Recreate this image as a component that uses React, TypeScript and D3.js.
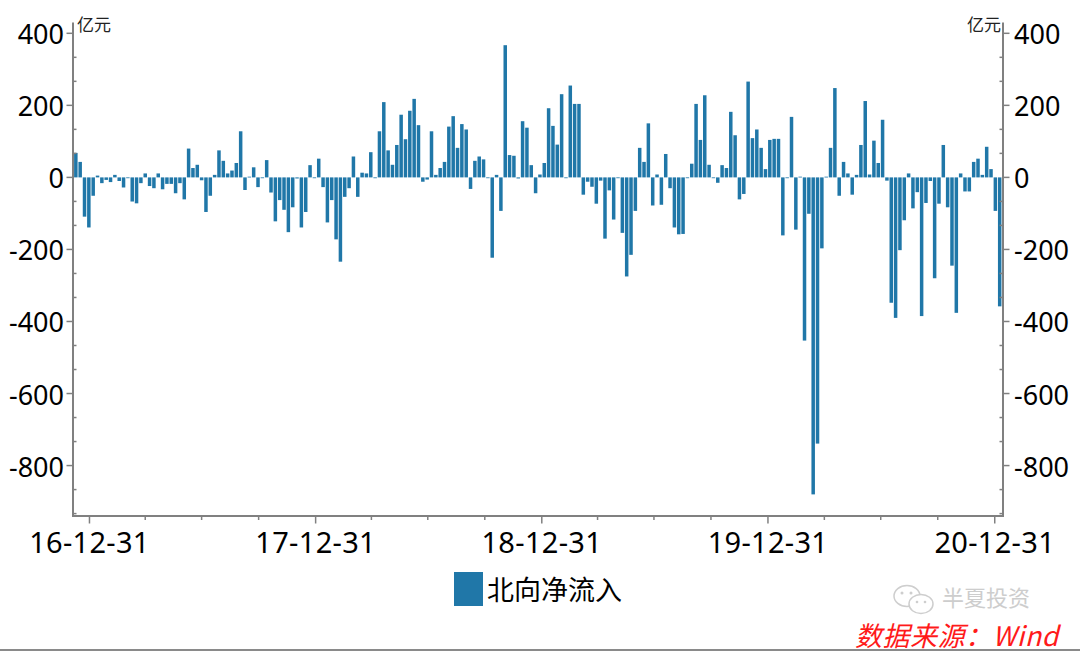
import React from "react";
import * as d3 from "d3";

// Weekly northbound net inflow (亿元), Fridays from 2016-12-09 to 2021-01-08
const firstWeek = "2016-12-09";
const values: number[] = [
  68, 43, -109, -139, -51, 5, -16, -7, -13, 7, -10, -28, -2, -67, -72, -16, 11, -24, -30, 11, -33, -18, -18, -44, -16, -61, 80, 26, 35, -8, -96, -51, 7, 75, 46, 11,
  19, 40, 128, -35, 2, 28, -27, 0, 48, -42, -122, -63, -90, -152, -83, -3, -139, -96, 34, -2, 52, -27, -125, -63, -172, -234, -54, -30, 58, -54, 13, 11, 70, 0, 128, 209,
  75, 35, 90, 174, 106, 185, 218, 145, -12, -6, 128, 7, 26, 43, 141, 170, 82, 148, 133, -32, 46, 58, 50, 0, -223, 7, -93, 367, 62, 60, -3, 156, 138, 34, -44, 8,
  40, 192, 143, 91, 231, 0, 255, 204, 204, -48, -12, -26, -73, -9, -170, -36, -117, 0, -154, -275, -215, -93, 82, 43, 150, -78, 8, -76, 65, -30, -139, -158, -157, -2, 38,
  204, 104, 228, 35, 0, -15, 34, 26, 182, 117, -61, -46, 266, 109, 133, 82, 23, 104, 107, 107, -161, 0, 168, -145, 2, -453, -101, -880, -739, -197, 2, 82, 248, -51, 43, 11,
  -48, 7, 90, 212, 8, 102, 40, 160, -9, -348, -390, -202, -119, 11, -86, -41, -385, -71, -10, -280, -73, 90, -83, -245, -376, 11, -39, -39, 43, 52, 7, 85, 23, -93, -358,
];
const yMajorTicks = [400, 200, 0, -200, -400, -600, -800];
const xMajorTickDates = ["2016-12-31", "2017-12-31", "2018-12-31", "2019-12-31", "2020-12-31"];
const xMinorTickDates = [
  "2017-03-31", "2017-06-30", "2017-09-30",
  "2018-03-31", "2018-06-30", "2018-09-30",
  "2019-03-31", "2019-06-30", "2019-09-30",
  "2020-03-31", "2020-06-30", "2020-09-30",
];
const seriesName = "北向净流入";
const unitLabel = "亿元";
const sourceText = "数据来源：Wind";
const brandText = "半夏投资";

const parse = d3.timeParse("%Y-%m-%d");
const fmt = d3.timeFormat("%y-%m-%d");

export default function App() {
  const W = 1080, H = 653;
  const left = 73, right = 1003, top = 22.5, bottom = 516;
  const start = parse(firstWeek)!;
  const dates = values.map((_, i) => d3.timeDay.offset(start, 7 * i));

  const x = d3.scaleTime()
    .domain([new Date(2016, 11, 4, 10), new Date(2021, 0, 13, 8)])
    .range([left, right]);
  const y = d3.scaleLinear().domain([-940, 430]).range([bottom, top]);
  const barW = 3.5;
  const axisColor = "#808080";
  const barColor = "#2077a8";
  const numFont = "'Noto Sans', 'DejaVu Sans', sans-serif";
  const cjkFont = "'Noto Sans CJK SC', sans-serif";

  const minorY: number[] = [];
  for (let k = -14; k <= 6; k++) {
    const v = (k * 200) / 3;
    if (v >= -940 && v <= 430 && Math.abs(v % 200) > 1e-6) minorY.push(v);
  }

  return (
    <svg width={W} height={H} style={{ position: "absolute", left: 0, top: 0, background: "#fff" }}>
      {/* bars */}
      <g>
        {values.map((v, i) => {
          const cx = x(dates[i]);
          const y0 = y(0), y1 = y(v);
          return (
            <rect key={i} x={cx - barW / 2} y={Math.min(y0, y1)} width={barW}
              height={Math.max(0.8, Math.abs(y1 - y0))} fill={barColor} />
          );
        })}
      </g>

      {/* frame */}
      <line x1={left} x2={left} y1={top} y2={bottom} stroke={axisColor} strokeWidth={2} />
      <line x1={right} x2={right} y1={top} y2={bottom} stroke={axisColor} strokeWidth={2} />
      <line x1={left - 1} x2={right + 1} y1={bottom} y2={bottom} stroke={axisColor} strokeWidth={2} />

      {/* y ticks & labels */}
      {yMajorTicks.map((t) => (
        <g key={"ym" + t}>
          <line x1={left - 6.5} x2={left} y1={y(t)} y2={y(t)} stroke={axisColor} strokeWidth={1.5} />
          <line x1={right} x2={right + 6.5} y1={y(t)} y2={y(t)} stroke={axisColor} strokeWidth={1.5} />
          <text x={64} y={y(t) + 11} textAnchor="end" fontFamily={numFont} fontSize={27} fill="#000">{t}</text>
          <text x={1014} y={y(t) + 11} textAnchor="start" fontFamily={numFont} fontSize={27} fill="#000">{t}</text>
        </g>
      ))}
      {minorY.map((t) => (
        <g key={"yn" + t}>
          <line x1={left} x2={left + 3.5} y1={y(t)} y2={y(t)} stroke={axisColor} strokeWidth={1.5} />
          <line x1={right - 3.5} x2={right} y1={y(t)} y2={y(t)} stroke={axisColor} strokeWidth={1.5} />
        </g>
      ))}

      {/* x ticks & labels */}
      {xMajorTickDates.map((s) => {
        const d = parse(s)!;
        const px = x(d);
        return (
          <g key={"xm" + s}>
            <line x1={px} x2={px} y1={bottom} y2={bottom + 7.5} stroke={axisColor} strokeWidth={1.5} />
            <text x={px} y={553} textAnchor="middle" fontFamily={numFont} fontSize={29} letterSpacing={0.3} fill="#000">{fmt(d)}</text>
          </g>
        );
      })}
      {xMinorTickDates.map((s) => {
        const px = x(parse(s)!);
        return <line key={"xn" + s} x1={px} x2={px} y1={bottom} y2={bottom + 4} stroke={axisColor} strokeWidth={1.5} />;
      })}

      {/* unit labels */}
      <text x={77} y={31} fontFamily={cjkFont} fontSize={17} fill="#222">{unitLabel}</text>
      <text x={1001} y={31} textAnchor="end" fontFamily={cjkFont} fontSize={17} fill="#222">{unitLabel}</text>

      {/* legend */}
      <rect x={454} y={572} width={29} height={34} fill={barColor} />
      <text x={487} y={600} fontFamily={cjkFont} fontSize={27} fill="#000">{seriesName}</text>

      {/* watermark */}
      <g opacity={0.9}>
        <ellipse cx={907} cy={596} rx={13} ry={10.5} fill="#fff" stroke="#c9c9c9" strokeWidth={1.5} />
        <ellipse cx={921} cy={604} rx={12} ry={9.5} fill="#fff" stroke="#c9c9c9" strokeWidth={1.5} />
        <circle cx={902} cy={593} r={1.5} fill="#c9c9c9" />
        <circle cx={911} cy={593} r={1.5} fill="#c9c9c9" />
        <circle cx={917} cy={602} r={1.3} fill="#c9c9c9" />
        <circle cx={925} cy={602} r={1.3} fill="#c9c9c9" />
        <text x={942} y={606} fontFamily={cjkFont} fontSize={22} fill="#c8c8c8">{brandText}</text>
      </g>
      <text x={855} y={646} fontFamily={cjkFont} fontSize={27} fontStyle="italic" fill="#ff1a1a" letterSpacing={0.5}>{sourceText}</text>
      <line x1={0} x2={W} y1={650} y2={650} stroke="#8a8a8a" strokeWidth={2} />
    </svg>
  );
}
